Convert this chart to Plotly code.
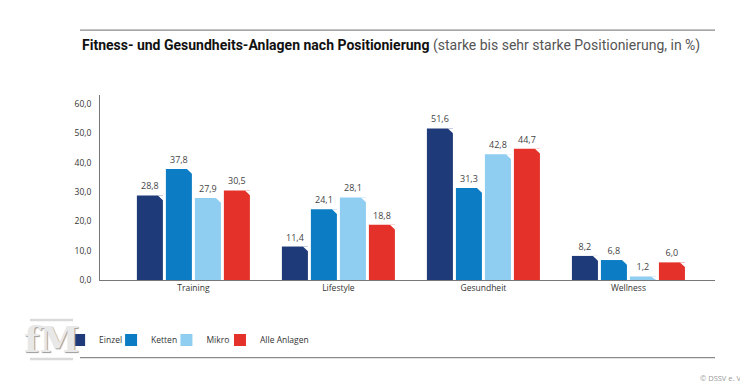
import plotly.graph_objects as go

categories = ["Training", "Lifestyle", "Gesundheit", "Wellness"]
series_names = ["Einzel", "Ketten", "Mikro", "Alle Anlagen"]
einzel = [28.8, 11.4, 51.6, 8.2]
ketten = [37.8, 24.1, 31.3, 6.8]
mikro = [27.9, 28.1, 42.8, 1.2]
alle = [30.5, 18.8, 44.7, 6.0]
y_ticks = [0, 10, 20, 30, 40, 50, 60]

series_values = [einzel, ketten, mikro, alle]
colors = ["#1e3a78", "#0c7dc4", "#8fcdf1", "#e4322b"]
legend_ids = ["legend", "legend2", "legend3", "legend4"]
legend_x = [-0.0665, 0.0180, 0.1080, 0.1951]

x_idx = list(range(len(categories)))

fig = go.Figure()
for name, vals, col, lg in zip(series_names, series_values, colors, legend_ids):
    fig.add_trace(go.Bar(
        x=x_idx, y=vals, name=name, marker_color=col, marker_line_width=0,
        text=vals, texttemplate="%{y:.1f}", textposition="outside",
        textfont=dict(size=9, color="#444", family="Open Sans"),
        cliponaxis=False, legend=lg,
    ))

# beveled top-right corner (white triangles), computed from data
BARGAP, GROUPGAP = 0.2, 0.103
n = len(series_names)
slot = (1 - BARGAP) / n
bw = slot * (1 - GROUPGAP)
dx = 0.0345
shapes = []
for j, vals in enumerate(series_values):
    for i, v in enumerate(vals):
        center = i - (1 - BARGAP) / 2 + slot * (j + 0.5)
        xr = center + bw / 2
        dy = min(1.7, v)
        shapes.append(dict(
            type="path", xref="x", yref="y",
            path=f"M {xr - dx},{v} L {xr + 0.002},{v} L {xr + 0.002},{v - dy} Z",
            fillcolor="white", line=dict(width=0), layer="above"))

# decorative lines
shapes.append(dict(type="line", xref="paper", yref="paper", x0=-0.0325, x1=1.0, y0=1.351, y1=1.351,
                   line=dict(color="#8a8a8a", width=1.2)))
shapes.append(dict(type="line", xref="paper", yref="paper", x0=-0.0325, x1=1.0, y0=-0.42, y1=-0.42,
                   line=dict(color="#8a8a8a", width=1.2)))
# logo bars
shapes.append(dict(type="line", xref="paper", yref="paper", x0=-0.1138, x1=-0.0439, y0=-0.216, y1=-0.216,
                   line=dict(color="#dadada", width=2.5)))
shapes.append(dict(type="line", xref="paper", yref="paper", x0=-0.1138, x1=-0.0439, y0=-0.427, y1=-0.427,
                   line=dict(color="#dadada", width=2.5)))

annotations = [
    dict(xref="paper", yref="paper", x=-0.0325, y=1.265, xanchor="left", yanchor="middle", showarrow=False,
         text="<b>Fitness- und Gesundheits-Anlagen nach Positionierung</b>"
              "<span style='color:#555'> (starke bis sehr starke Positionierung, in %)</span>",
         font=dict(family="Roboto", size=14, color="#111")),
    dict(xref="paper", yref="paper", x=-0.0789, y=-0.319, xanchor="center", yanchor="middle", showarrow=False,
         text="<b>fM</b>", font=dict(family="DejaVu Serif", size=36, color="#e8e8e8",
                                     shadow="1px 1px 1px #9a9a9a")),
    dict(xref="paper", yref="paper", x=1.048, y=-0.53, xanchor="right", yanchor="middle", showarrow=False,
         text="© DSSV e. V.", font=dict(family="Open Sans", size=7.5, color="#9a9a9a")),
]

legend_common = dict(orientation="h", y=-0.3243, xanchor="left", yanchor="middle",
                     font=dict(size=8.5, color="#333"), itemwidth=30, bgcolor="rgba(0,0,0,0)")

# page body has an 8px default margin: figure is 740x382, drawn from (8,8)
fig.update_layout(
    width=740, height=382,
    margin=dict(l=92, r=33, t=87, b=110),
    paper_bgcolor="white", plot_bgcolor="white",
    barmode="group", bargap=BARGAP, bargroupgap=GROUPGAP,
    separators=",.",
    font=dict(family="Open Sans", size=8.5, color="#333"),
    xaxis=dict(range=[-0.644, 3.597], tickmode="array", tickvals=x_idx, ticktext=categories,
               showline=True, linecolor="#777", linewidth=1, showgrid=False, ticks="",
               zeroline=False, tickfont=dict(size=8.5, color="#333")),
    yaxis=dict(range=[0, 63], tickmode="array", tickvals=y_ticks, tickformat=".1f",
               showline=True, linecolor="#777", linewidth=1, showgrid=False, ticks="",
               zeroline=False, tickfont=dict(size=8.5, color="#333"), ticklabelstandoff=6),
    legend=dict(x=legend_x[0], **legend_common),
    legend2=dict(x=legend_x[1], **legend_common),
    legend3=dict(x=legend_x[2], **legend_common),
    legend4=dict(x=legend_x[3], **legend_common),
    shapes=shapes, annotations=annotations,
    showlegend=True,
)

fig.write_html("out.html")
